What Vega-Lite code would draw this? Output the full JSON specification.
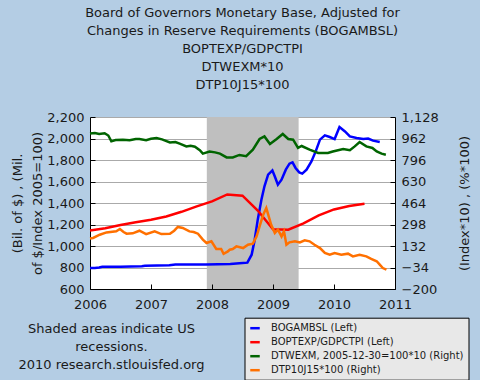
{
  "$schema": "https://vega.github.io/schema/vega-lite/v6.json",
  "width": 305,
  "height": 172,
  "autosize": "none",
  "padding": {"left": 90, "top": 117, "right": 85, "bottom": 91},
  "background": "#b4cde4",
  "config": {
    "font": "DejaVu Sans",
    "view": {"stroke": null, "fill": "white"},
    "axis": {
      "labelFont": "DejaVu Sans",
      "labelFontSize": 13,
      "labelColor": "#1a1a1a",
      "titleFont": "DejaVu Sans",
      "titleFontSize": 13,
      "titleFontWeight": "normal",
      "titleColor": "#1a1a1a",
      "domainColor": "black",
      "tickColor": "black",
      "gridColor": "#aaaaaa",
      "gridOpacity": 1
    }
  },
  "title": {
    "text": [
      "Board of Governors Monetary Base, Adjusted for",
      "Changes in Reserve Requirements (BOGAMBSL)",
      "BOPTEXP/GDPCTPI",
      "DTWEXM*10",
      "DTP10J15*100"
    ],
    "fontSize": 13,
    "fontWeight": "normal",
    "lineHeight": 18,
    "color": "#1a1a1a",
    "anchor": "middle",
    "offset": 19
  },
  "datasets": {
    "rec": [{"start": 2007.915, "end": 2009.42}],
    "series": [
      {"s": "BOGAMBSL (Left)", "t": 2006.00, "v": 795},
      {"s": "BOGAMBSL (Left)", "t": 2006.08, "v": 796},
      {"s": "BOGAMBSL (Left)", "t": 2006.15, "v": 800},
      {"s": "BOGAMBSL (Left)", "t": 2006.20, "v": 806},
      {"s": "BOGAMBSL (Left)", "t": 2006.50, "v": 808},
      {"s": "BOGAMBSL (Left)", "t": 2006.85, "v": 812},
      {"s": "BOGAMBSL (Left)", "t": 2006.90, "v": 817},
      {"s": "BOGAMBSL (Left)", "t": 2007.30, "v": 820},
      {"s": "BOGAMBSL (Left)", "t": 2007.40, "v": 827},
      {"s": "BOGAMBSL (Left)", "t": 2007.90, "v": 829},
      {"s": "BOGAMBSL (Left)", "t": 2008.30, "v": 833},
      {"s": "BOGAMBSL (Left)", "t": 2008.45, "v": 840},
      {"s": "BOGAMBSL (Left)", "t": 2008.58, "v": 845},
      {"s": "BOGAMBSL (Left)", "t": 2008.65, "v": 919},
      {"s": "BOGAMBSL (Left)", "t": 2008.70, "v": 1059},
      {"s": "BOGAMBSL (Left)", "t": 2008.75, "v": 1245},
      {"s": "BOGAMBSL (Left)", "t": 2008.81, "v": 1431},
      {"s": "BOGAMBSL (Left)", "t": 2008.86, "v": 1555},
      {"s": "BOGAMBSL (Left)", "t": 2008.92, "v": 1663},
      {"s": "BOGAMBSL (Left)", "t": 2008.99, "v": 1703},
      {"s": "BOGAMBSL (Left)", "t": 2009.03, "v": 1647},
      {"s": "BOGAMBSL (Left)", "t": 2009.08, "v": 1570},
      {"s": "BOGAMBSL (Left)", "t": 2009.14, "v": 1617},
      {"s": "BOGAMBSL (Left)", "t": 2009.21, "v": 1710},
      {"s": "BOGAMBSL (Left)", "t": 2009.27, "v": 1766},
      {"s": "BOGAMBSL (Left)", "t": 2009.32, "v": 1778},
      {"s": "BOGAMBSL (Left)", "t": 2009.37, "v": 1726},
      {"s": "BOGAMBSL (Left)", "t": 2009.43, "v": 1685},
      {"s": "BOGAMBSL (Left)", "t": 2009.48, "v": 1673},
      {"s": "BOGAMBSL (Left)", "t": 2009.55, "v": 1710},
      {"s": "BOGAMBSL (Left)", "t": 2009.63, "v": 1787},
      {"s": "BOGAMBSL (Left)", "t": 2009.70, "v": 1880},
      {"s": "BOGAMBSL (Left)", "t": 2009.77, "v": 1989},
      {"s": "BOGAMBSL (Left)", "t": 2009.85, "v": 2029},
      {"s": "BOGAMBSL (Left)", "t": 2009.93, "v": 2014},
      {"s": "BOGAMBSL (Left)", "t": 2010.01, "v": 1995},
      {"s": "BOGAMBSL (Left)", "t": 2010.09, "v": 2107},
      {"s": "BOGAMBSL (Left)", "t": 2010.18, "v": 2066},
      {"s": "BOGAMBSL (Left)", "t": 2010.26, "v": 2020},
      {"s": "BOGAMBSL (Left)", "t": 2010.37, "v": 2005},
      {"s": "BOGAMBSL (Left)", "t": 2010.48, "v": 1995},
      {"s": "BOGAMBSL (Left)", "t": 2010.56, "v": 2000},
      {"s": "BOGAMBSL (Left)", "t": 2010.64, "v": 1980},
      {"s": "BOGAMBSL (Left)", "t": 2010.75, "v": 1967},
      {"s": "BOPTEXP/GDPCTPI (Left)", "t": 2006.00, "v": 1145},
      {"s": "BOPTEXP/GDPCTPI (Left)", "t": 2006.25, "v": 1165},
      {"s": "BOPTEXP/GDPCTPI (Left)", "t": 2006.50, "v": 1195},
      {"s": "BOPTEXP/GDPCTPI (Left)", "t": 2006.75, "v": 1220},
      {"s": "BOPTEXP/GDPCTPI (Left)", "t": 2007.00, "v": 1245},
      {"s": "BOPTEXP/GDPCTPI (Left)", "t": 2007.25, "v": 1275},
      {"s": "BOPTEXP/GDPCTPI (Left)", "t": 2007.50, "v": 1318},
      {"s": "BOPTEXP/GDPCTPI (Left)", "t": 2007.75, "v": 1368},
      {"s": "BOPTEXP/GDPCTPI (Left)", "t": 2008.00, "v": 1415},
      {"s": "BOPTEXP/GDPCTPI (Left)", "t": 2008.25, "v": 1480},
      {"s": "BOPTEXP/GDPCTPI (Left)", "t": 2008.50, "v": 1468},
      {"s": "BOPTEXP/GDPCTPI (Left)", "t": 2008.75, "v": 1330},
      {"s": "BOPTEXP/GDPCTPI (Left)", "t": 2009.00, "v": 1155},
      {"s": "BOPTEXP/GDPCTPI (Left)", "t": 2009.25, "v": 1152},
      {"s": "BOPTEXP/GDPCTPI (Left)", "t": 2009.50, "v": 1210},
      {"s": "BOPTEXP/GDPCTPI (Left)", "t": 2009.75, "v": 1285},
      {"s": "BOPTEXP/GDPCTPI (Left)", "t": 2010.00, "v": 1340},
      {"s": "BOPTEXP/GDPCTPI (Left)", "t": 2010.25, "v": 1372},
      {"s": "BOPTEXP/GDPCTPI (Left)", "t": 2010.50, "v": 1392},
      {"s": "DTWEXM, 2005-12-30=100*10 (Right)", "t": 2006.00, "v": 1000},
      {"s": "DTWEXM, 2005-12-30=100*10 (Right)", "t": 2006.08, "v": 1005},
      {"s": "DTWEXM, 2005-12-30=100*10 (Right)", "t": 2006.15, "v": 997},
      {"s": "DTWEXM, 2005-12-30=100*10 (Right)", "t": 2006.24, "v": 1003},
      {"s": "DTWEXM, 2005-12-30=100*10 (Right)", "t": 2006.30, "v": 985},
      {"s": "DTWEXM, 2005-12-30=100*10 (Right)", "t": 2006.35, "v": 940},
      {"s": "DTWEXM, 2005-12-30=100*10 (Right)", "t": 2006.42, "v": 950},
      {"s": "DTWEXM, 2005-12-30=100*10 (Right)", "t": 2006.54, "v": 953},
      {"s": "DTWEXM, 2005-12-30=100*10 (Right)", "t": 2006.65, "v": 948},
      {"s": "DTWEXM, 2005-12-30=100*10 (Right)", "t": 2006.75, "v": 958},
      {"s": "DTWEXM, 2005-12-30=100*10 (Right)", "t": 2006.81, "v": 958},
      {"s": "DTWEXM, 2005-12-30=100*10 (Right)", "t": 2006.92, "v": 949},
      {"s": "DTWEXM, 2005-12-30=100*10 (Right)", "t": 2007.00, "v": 960},
      {"s": "DTWEXM, 2005-12-30=100*10 (Right)", "t": 2007.09, "v": 966},
      {"s": "DTWEXM, 2005-12-30=100*10 (Right)", "t": 2007.18, "v": 955},
      {"s": "DTWEXM, 2005-12-30=100*10 (Right)", "t": 2007.31, "v": 932},
      {"s": "DTWEXM, 2005-12-30=100*10 (Right)", "t": 2007.40, "v": 935},
      {"s": "DTWEXM, 2005-12-30=100*10 (Right)", "t": 2007.47, "v": 922},
      {"s": "DTWEXM, 2005-12-30=100*10 (Right)", "t": 2007.58, "v": 901},
      {"s": "DTWEXM, 2005-12-30=100*10 (Right)", "t": 2007.65, "v": 905},
      {"s": "DTWEXM, 2005-12-30=100*10 (Right)", "t": 2007.72, "v": 899},
      {"s": "DTWEXM, 2005-12-30=100*10 (Right)", "t": 2007.80, "v": 872},
      {"s": "DTWEXM, 2005-12-30=100*10 (Right)", "t": 2007.85, "v": 845},
      {"s": "DTWEXM, 2005-12-30=100*10 (Right)", "t": 2007.96, "v": 862},
      {"s": "DTWEXM, 2005-12-30=100*10 (Right)", "t": 2008.05, "v": 855},
      {"s": "DTWEXM, 2005-12-30=100*10 (Right)", "t": 2008.13, "v": 845},
      {"s": "DTWEXM, 2005-12-30=100*10 (Right)", "t": 2008.24, "v": 816},
      {"s": "DTWEXM, 2005-12-30=100*10 (Right)", "t": 2008.34, "v": 816},
      {"s": "DTWEXM, 2005-12-30=100*10 (Right)", "t": 2008.45, "v": 835},
      {"s": "DTWEXM, 2005-12-30=100*10 (Right)", "t": 2008.56, "v": 826},
      {"s": "DTWEXM, 2005-12-30=100*10 (Right)", "t": 2008.67, "v": 876},
      {"s": "DTWEXM, 2005-12-30=100*10 (Right)", "t": 2008.78, "v": 958},
      {"s": "DTWEXM, 2005-12-30=100*10 (Right)", "t": 2008.86, "v": 978},
      {"s": "DTWEXM, 2005-12-30=100*10 (Right)", "t": 2008.95, "v": 920},
      {"s": "DTWEXM, 2005-12-30=100*10 (Right)", "t": 2009.06, "v": 958},
      {"s": "DTWEXM, 2005-12-30=100*10 (Right)", "t": 2009.16, "v": 997},
      {"s": "DTWEXM, 2005-12-30=100*10 (Right)", "t": 2009.25, "v": 958},
      {"s": "DTWEXM, 2005-12-30=100*10 (Right)", "t": 2009.33, "v": 953},
      {"s": "DTWEXM, 2005-12-30=100*10 (Right)", "t": 2009.41, "v": 889},
      {"s": "DTWEXM, 2005-12-30=100*10 (Right)", "t": 2009.47, "v": 904},
      {"s": "DTWEXM, 2005-12-30=100*10 (Right)", "t": 2009.60, "v": 876},
      {"s": "DTWEXM, 2005-12-30=100*10 (Right)", "t": 2009.74, "v": 850},
      {"s": "DTWEXM, 2005-12-30=100*10 (Right)", "t": 2009.90, "v": 850},
      {"s": "DTWEXM, 2005-12-30=100*10 (Right)", "t": 2009.98, "v": 862},
      {"s": "DTWEXM, 2005-12-30=100*10 (Right)", "t": 2010.15, "v": 881},
      {"s": "DTWEXM, 2005-12-30=100*10 (Right)", "t": 2010.26, "v": 871},
      {"s": "DTWEXM, 2005-12-30=100*10 (Right)", "t": 2010.34, "v": 901},
      {"s": "DTWEXM, 2005-12-30=100*10 (Right)", "t": 2010.42, "v": 935},
      {"s": "DTWEXM, 2005-12-30=100*10 (Right)", "t": 2010.53, "v": 901},
      {"s": "DTWEXM, 2005-12-30=100*10 (Right)", "t": 2010.63, "v": 889},
      {"s": "DTWEXM, 2005-12-30=100*10 (Right)", "t": 2010.70, "v": 862},
      {"s": "DTWEXM, 2005-12-30=100*10 (Right)", "t": 2010.78, "v": 845},
      {"s": "DTWEXM, 2005-12-30=100*10 (Right)", "t": 2010.85, "v": 837},
      {"s": "DTP10J15*100 (Right)", "t": 2006.00, "v": 190},
      {"s": "DTP10J15*100 (Right)", "t": 2006.05, "v": 194},
      {"s": "DTP10J15*100 (Right)", "t": 2006.16, "v": 219},
      {"s": "DTP10J15*100 (Right)", "t": 2006.27, "v": 237},
      {"s": "DTP10J15*100 (Right)", "t": 2006.43, "v": 245},
      {"s": "DTP10J15*100 (Right)", "t": 2006.49, "v": 263},
      {"s": "DTP10J15*100 (Right)", "t": 2006.55, "v": 240},
      {"s": "DTP10J15*100 (Right)", "t": 2006.60, "v": 227},
      {"s": "DTP10J15*100 (Right)", "t": 2006.70, "v": 230},
      {"s": "DTP10J15*100 (Right)", "t": 2006.81, "v": 250},
      {"s": "DTP10J15*100 (Right)", "t": 2006.92, "v": 224},
      {"s": "DTP10J15*100 (Right)", "t": 2007.06, "v": 245},
      {"s": "DTP10J15*100 (Right)", "t": 2007.17, "v": 224},
      {"s": "DTP10J15*100 (Right)", "t": 2007.31, "v": 227},
      {"s": "DTP10J15*100 (Right)", "t": 2007.38, "v": 250},
      {"s": "DTP10J15*100 (Right)", "t": 2007.44, "v": 279},
      {"s": "DTP10J15*100 (Right)", "t": 2007.52, "v": 271},
      {"s": "DTP10J15*100 (Right)", "t": 2007.63, "v": 245},
      {"s": "DTP10J15*100 (Right)", "t": 2007.70, "v": 240},
      {"s": "DTP10J15*100 (Right)", "t": 2007.77, "v": 227},
      {"s": "DTP10J15*100 (Right)", "t": 2007.85, "v": 181},
      {"s": "DTP10J15*100 (Right)", "t": 2007.91, "v": 155},
      {"s": "DTP10J15*100 (Right)", "t": 2007.99, "v": 168},
      {"s": "DTP10J15*100 (Right)", "t": 2008.07, "v": 109},
      {"s": "DTP10J15*100 (Right)", "t": 2008.15, "v": 109},
      {"s": "DTP10J15*100 (Right)", "t": 2008.19, "v": 72},
      {"s": "DTP10J15*100 (Right)", "t": 2008.26, "v": 90},
      {"s": "DTP10J15*100 (Right)", "t": 2008.29, "v": 103},
      {"s": "DTP10J15*100 (Right)", "t": 2008.34, "v": 109},
      {"s": "DTP10J15*100 (Right)", "t": 2008.40, "v": 129},
      {"s": "DTP10J15*100 (Right)", "t": 2008.51, "v": 116},
      {"s": "DTP10J15*100 (Right)", "t": 2008.59, "v": 142},
      {"s": "DTP10J15*100 (Right)", "t": 2008.67, "v": 150},
      {"s": "DTP10J15*100 (Right)", "t": 2008.73, "v": 206},
      {"s": "DTP10J15*100 (Right)", "t": 2008.78, "v": 283},
      {"s": "DTP10J15*100 (Right)", "t": 2008.84, "v": 374},
      {"s": "DTP10J15*100 (Right)", "t": 2008.89, "v": 425},
      {"s": "DTP10J15*100 (Right)", "t": 2008.93, "v": 361},
      {"s": "DTP10J15*100 (Right)", "t": 2008.97, "v": 296},
      {"s": "DTP10J15*100 (Right)", "t": 2009.03, "v": 232},
      {"s": "DTP10J15*100 (Right)", "t": 2009.08, "v": 258},
      {"s": "DTP10J15*100 (Right)", "t": 2009.14, "v": 206},
      {"s": "DTP10J15*100 (Right)", "t": 2009.18, "v": 245},
      {"s": "DTP10J15*100 (Right)", "t": 2009.22, "v": 142},
      {"s": "DTP10J15*100 (Right)", "t": 2009.27, "v": 160},
      {"s": "DTP10J15*100 (Right)", "t": 2009.36, "v": 168},
      {"s": "DTP10J15*100 (Right)", "t": 2009.44, "v": 160},
      {"s": "DTP10J15*100 (Right)", "t": 2009.52, "v": 176},
      {"s": "DTP10J15*100 (Right)", "t": 2009.60, "v": 168},
      {"s": "DTP10J15*100 (Right)", "t": 2009.68, "v": 142},
      {"s": "DTP10J15*100 (Right)", "t": 2009.77, "v": 116},
      {"s": "DTP10J15*100 (Right)", "t": 2009.85, "v": 78},
      {"s": "DTP10J15*100 (Right)", "t": 2009.93, "v": 65},
      {"s": "DTP10J15*100 (Right)", "t": 2010.01, "v": 78},
      {"s": "DTP10J15*100 (Right)", "t": 2010.12, "v": 65},
      {"s": "DTP10J15*100 (Right)", "t": 2010.23, "v": 73},
      {"s": "DTP10J15*100 (Right)", "t": 2010.31, "v": 52},
      {"s": "DTP10J15*100 (Right)", "t": 2010.42, "v": 65},
      {"s": "DTP10J15*100 (Right)", "t": 2010.53, "v": 52},
      {"s": "DTP10J15*100 (Right)", "t": 2010.61, "v": 32},
      {"s": "DTP10J15*100 (Right)", "t": 2010.70, "v": 14},
      {"s": "DTP10J15*100 (Right)", "t": 2010.75, "v": -12},
      {"s": "DTP10J15*100 (Right)", "t": 2010.80, "v": -38},
      {"s": "DTP10J15*100 (Right)", "t": 2010.86, "v": -51}
    ]
  },
  "layer": [
    {
      "data": {"name": "rec"},
      "mark": {"type": "rect", "color": "#bfbfbf"},
      "encoding": {
        "x": {
          "field": "start",
          "type": "quantitative",
          "scale": {"domain": [2006, 2011], "nice": false, "zero": false},
          "axis": {
            "values": [2006, 2007, 2008, 2009, 2010, 2011],
            "format": "d",
            "labelFlush": false,
            "grid": false,
            "tickSize": -5,
            "labelPadding": 14,
            "zindex": 1,
            "title": ["Shaded areas indicate US", "recessions.", "2010 research.stlouisfed.org"],
            "titleX": 21,
            "titleY": 33,
            "titleAlign": "center",
            "titleBaseline": "top",
            "titleLineHeight": 18
          }
        },
        "x2": {"field": "end"}
      }
    },
    {
      "data": {"name": "series"},
      "transform": [{"filter": {"field": "s", "oneOf": ["BOGAMBSL (Left)", "BOPTEXP/GDPCTPI (Left)"]}}],
      "mark": {"type": "line", "strokeWidth": 2.5},
      "encoding": {
        "x": {"field": "t", "type": "quantitative"},
        "y": {
          "field": "v",
          "type": "quantitative",
          "scale": {"domain": [600, 2200], "nice": false, "zero": false},
          "axis": {
            "orient": "left",
            "values": [600, 800, 1000, 1200, 1400, 1600, 1800, 2000, 2200],
            "format": ",d",
            "grid": true,
            "tickSize": -5,
            "labelPadding": 11,
            "title": ["(Bil. of $) , (Mil.", "of $/Index 2005=100)"],
            "titleLineHeight": 20,
            "titlePadding": 2
          }
        },
        "color": {
          "field": "s",
          "type": "nominal",
          "sort": null,
          "scale": {
            "domain": ["BOGAMBSL (Left)", "BOPTEXP/GDPCTPI (Left)", "DTWEXM, 2005-12-30=100*10 (Right)", "DTP10J15*100 (Right)"],
            "range": ["#0000ff", "#ff0000", "#006400", "#ff7000"]
          },
          "legend": {
            "orient": "none",
            "legendX": 154.5,
            "legendY": 200.7,
            "title": null,
            "fillColor": "#e8e8e8",
            "strokeColor": "black",
            "padding": 4.5,
            "labelFont": "DejaVu Sans",
            "labelFontSize": 10,
            "labelColor": "#1a1a1a",
            "labelOffset": 10,
            "symbolType": "stroke",
            "symbolStrokeWidth": 2.5,
            "symbolSize": 90,
            "rowPadding": 3,
            "labelLimit": 300
          }
        }
      }
    },
    {
      "data": {"name": "series"},
      "transform": [{"filter": {"field": "s", "oneOf": ["DTWEXM, 2005-12-30=100*10 (Right)", "DTP10J15*100 (Right)"]}}],
      "mark": {"type": "line", "strokeWidth": 2.5},
      "encoding": {
        "x": {"field": "t", "type": "quantitative"},
        "y": {
          "field": "v",
          "type": "quantitative",
          "scale": {"domain": [-200, 1128], "nice": false, "zero": false},
          "axis": {
            "orient": "right",
            "values": [-200, -34, 132, 298, 464, 630, 796, 962, 1128],
            "format": ",d",
            "grid": false,
            "tickSize": -5,
            "labelPadding": 11,
            "title": "(Index*10) , (%*100)",
            "titleAngle": 270,
            "titlePadding": 33
          }
        },
        "color": {"field": "s", "type": "nominal", "sort": null}
      }
    }
  ],
  "resolve": {"scale": {"y": "independent"}}
}
